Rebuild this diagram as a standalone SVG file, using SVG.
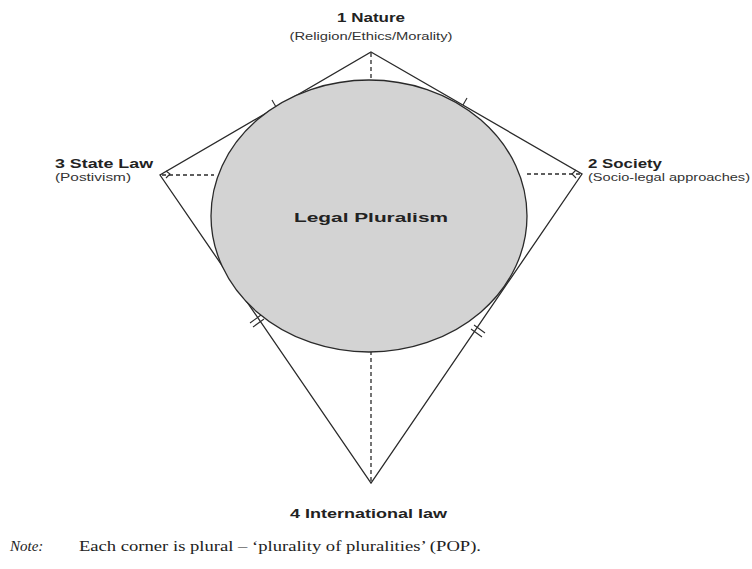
<svg xmlns="http://www.w3.org/2000/svg" width="752" height="569" viewBox="0 0 752 569">
<style>
.edge{fill:none;stroke:#2a2a2a;stroke-width:1.3}
.dash{fill:none;stroke:#2a2a2a;stroke-width:1.3;stroke-dasharray:4 3}
.tick{fill:none;stroke:#2a2a2a;stroke-width:1.1}
.lbl{font-family:"Liberation Sans",Arial,sans-serif;font-weight:bold;font-size:13px;fill:#222}
.sub{font-family:"Liberation Sans",Arial,sans-serif;font-size:11px;fill:#333}
.note{font-family:"Liberation Serif","Times New Roman",serif;font-size:15px;fill:#222}
</style>
<rect width="752" height="569" fill="#fff"/>
<g id="connectors">
<polygon class="edge" points="371,52 582,174 371,483 160,175"/>
<line class="dash" x1="371" y1="53" x2="371" y2="80"/>
<line class="dash" x1="162" y1="175" x2="214" y2="175"/>
<line class="dash" x1="580" y1="174" x2="526" y2="174"/>
<line class="dash" x1="371" y1="481" x2="371" y2="352"/>
<line class="tick" x1="276" y1="107" x2="272" y2="100"/>
<line class="tick" x1="463" y1="105" x2="467" y2="98"/>
<line class="tick" x1="250" y1="323" x2="261" y2="315"/>
<line class="tick" x1="253" y1="327" x2="264" y2="319"/>
<line class="tick" x1="474" y1="325" x2="485" y2="333"/>
<line class="tick" x1="471" y1="329" x2="482" y2="337"/>
<path class="tick" d="M166,171 L170,174 L166,178"/>
<path class="tick" d="M576,170 L572,174 L576,178"/>
</g>
<g id="center">
<ellipse cx="369" cy="216" rx="158" ry="136" fill="#d3d3d3" stroke="#2a2a2a" stroke-width="1.3"/>
<text class="lbl" x="371" y="222" text-anchor="middle" font-size="16" textLength="154" lengthAdjust="spacingAndGlyphs">Legal Pluralism</text>
</g>
<g id="nature">
<text class="lbl" x="371" y="22" text-anchor="middle" textLength="68" lengthAdjust="spacingAndGlyphs">1 Nature</text>
<text class="sub" x="371" y="40" text-anchor="middle" textLength="163" lengthAdjust="spacingAndGlyphs">(Religion/Ethics/Morality)</text>
</g>
<g id="state">
<text class="lbl" x="55" y="168" textLength="98" lengthAdjust="spacingAndGlyphs">3  State Law</text>
<text class="sub" x="55" y="181" textLength="76" lengthAdjust="spacingAndGlyphs">(Postivism)</text>
</g>
<g id="society">
<text class="lbl" x="588" y="168" textLength="74" lengthAdjust="spacingAndGlyphs">2 Society</text>
<text class="sub" x="588" y="181" textLength="162" lengthAdjust="spacingAndGlyphs">(Socio-legal approaches)</text>
</g>
<g id="international">
<text class="lbl" x="290" y="518" textLength="157" lengthAdjust="spacingAndGlyphs">4  International law</text>
</g>
<g id="note">
<text class="note" x="10" y="551" font-style="italic">Note:</text>
<text class="note" x="79" y="551" textLength="402" lengthAdjust="spacingAndGlyphs">Each corner is plural – ‘plurality of pluralities’ (POP).</text>
</g>
</svg>
